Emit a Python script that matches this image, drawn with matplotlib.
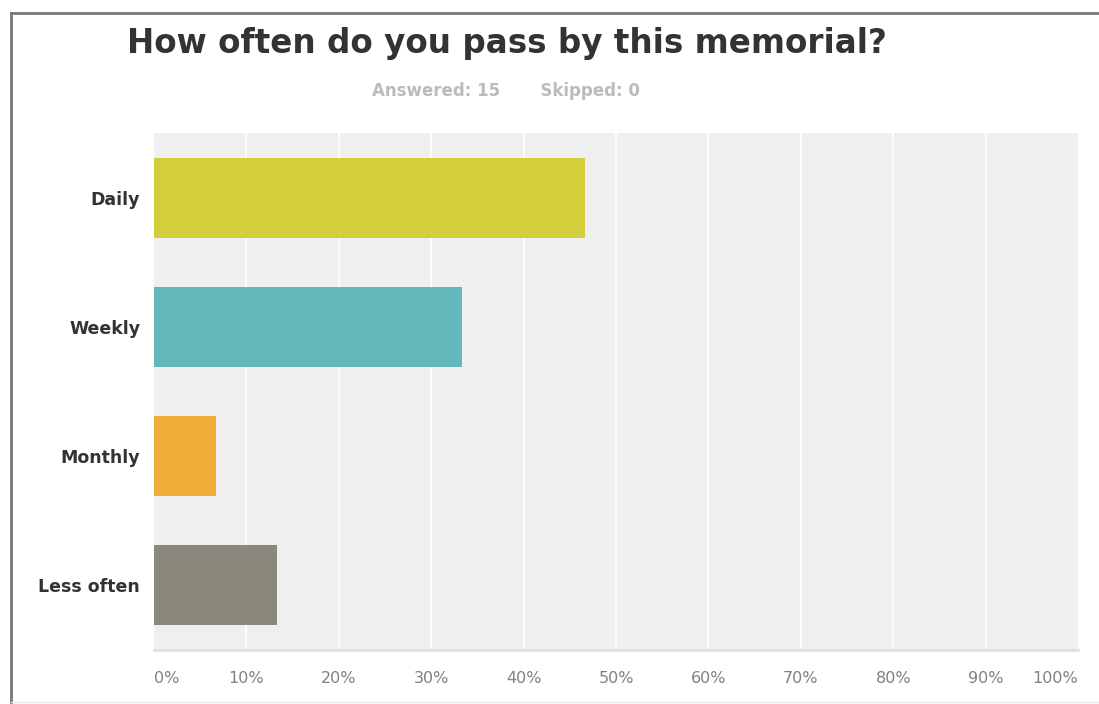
import matplotlib
matplotlib.use("Agg")
import matplotlib.pyplot as plt
from matplotlib.lines import Line2D

plt.rcParams['font.family'] = ['DejaVu Sans']

categories = ['Daily', 'Weekly', 'Monthly', 'Less often']
percents = [46.67, 33.33, 6.67, 13.33]
colors = ['#d3ce3a', '#62b8bb', '#f0ad3a', '#8a887a']
tick_values = [0, 10, 20, 30, 40, 50, 60, 70, 80, 90, 100]
tick_labels = ['%d%%' % v for v in tick_values]


def main():
    fig = plt.figure(figsize=(10.99, 7.04), dpi=100)
    W, H = 1099, 704
    ax = fig.add_axes([154 / W, 1 - 650 / H, (1078 - 154) / W, (650 - 133) / H])
    ax.set_facecolor('#efefef')

    y_pos = list(range(len(categories)))
    ax.barh(y_pos, percents, height=0.62, color=colors, zorder=3)
    ax.set_ylim(len(categories) - 0.5, -0.5)
    ax.set_xlim(0, 100)

    for v in tick_values[1:-1]:
        ax.axvline(v, color='white', lw=1.2, zorder=1)

    ax.set_yticks(y_pos)
    ax.set_yticklabels(categories, fontsize=12.5, fontweight='bold', color='#333333')
    ax.set_xticks(tick_values)
    ax.set_xticklabels(tick_labels, fontsize=11.5, color='#808080')
    labels = ax.get_xticklabels()
    labels[0].set_horizontalalignment('left')
    labels[-1].set_horizontalalignment('right')
    ax.tick_params(axis='both', length=0)
    ax.tick_params(axis='x', pad=15)
    ax.tick_params(axis='y', pad=10)
    for side in ['top', 'right', 'left']:
        ax.spines[side].set_visible(False)
    ax.spines['bottom'].set_color('#e0e0e0')
    ax.spines['bottom'].set_linewidth(2)

    fig.text(507 / W, 1 - 44 / H, 'How often do you pass by this memorial?',
             ha='center', va='center', fontsize=23.5, fontweight='bold', color='#333333')
    fig.text(506 / W, 1 - 91 / H, 'Answered: 15       Skipped: 0',
             ha='center', va='center', fontsize=12, fontweight='bold', color='#bbbbbb')

    # outer frame of the screenshot
    fig.add_artist(Line2D([11 / W, 11 / W], [0, 1 - 13 / H], color='#777777', lw=2,
                          transform=fig.transFigure))
    fig.add_artist(Line2D([11 / W, 1], [1 - 13 / H, 1 - 13 / H], color='#777777', lw=2,
                          transform=fig.transFigure))
    fig.add_artist(Line2D([11 / W, 1], [1 - 702 / H, 1 - 702 / H], color='#e6e6e6', lw=1,
                          transform=fig.transFigure))

    fig.savefig('out.png', dpi=100)


if __name__ == "__main__":
    main()
